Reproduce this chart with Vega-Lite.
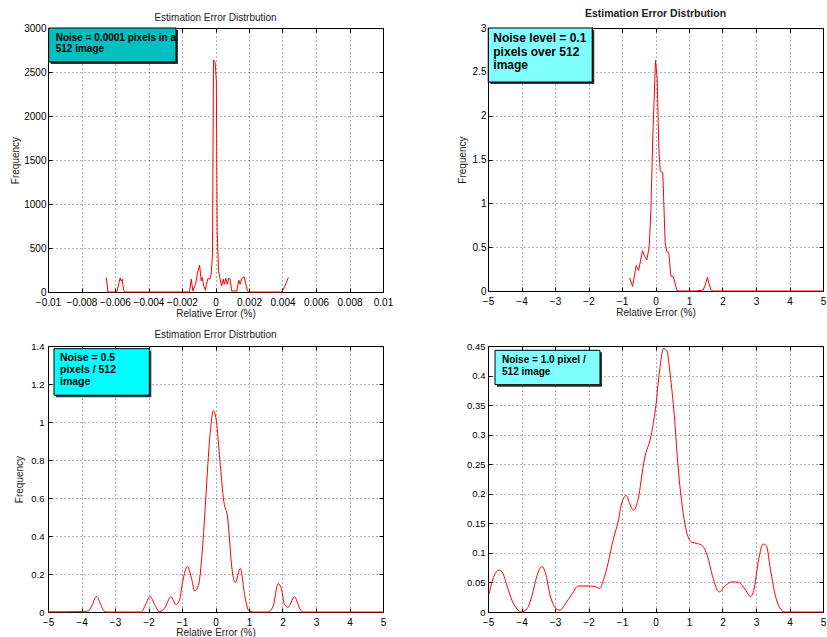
{
  "$schema": "https://vega.github.io/schema/vega-lite/v6.json",
  "background": "white",
  "padding": {"left": 10, "top": 8, "right": 2, "bottom": 1},
  "config": {
    "font": "Liberation Sans",
    "view": {"stroke": "#000", "strokeWidth": 1},
    "axis": {
      "labelFont": "Liberation Sans", "titleFont": "Liberation Sans",
      "labelColor": "#000", "titleColor": "#222",
      "domainColor": "#000", "tickColor": "#000",
      "gridColor": "#000", "gridDash": [1, 3], "gridOpacity": 0.6, "gridWidth": 1,
      "labelFlush": false, "labelOverlap": false, "labelBound": false,
      "titleFontWeight": "normal", "tickSize": -4, "labelPadding": 7, "titlePadding": 3,
      "labelFontSize": 10, "titleFontSize": 10
    },
    "axisBottom": {"labelPadding": 9, "titlePadding": 1},
    "title": {"font": "Liberation Sans", "fontSize": 10, "fontWeight": "normal", "color": "#222"}
  },
  "datasets": {
    "p1": [
      {"x": -0.00652, "y": 165}, {"x": -0.00642, "y": 0}, {"x": -0.006, "y": 0}, {"x": -0.00588, "y": 5},
      {"x": -0.00577, "y": 100}, {"x": -0.00569, "y": 160}, {"x": -0.00563, "y": 125}, {"x": -0.00557, "y": 145},
      {"x": -0.00548, "y": 20}, {"x": -0.0054, "y": 0}, {"x": -0.00185, "y": 0}, {"x": -0.00155, "y": 0},
      {"x": -0.00145, "y": 146}, {"x": -0.00135, "y": 11}, {"x": -0.00119, "y": 88}, {"x": -0.00109, "y": 203},
      {"x": -0.00095, "y": 306}, {"x": -0.00085, "y": 126}, {"x": -0.00079, "y": 165}, {"x": -0.0007, "y": 69},
      {"x": -0.0006, "y": 19}, {"x": -0.00054, "y": 88}, {"x": -0.00044, "y": 157}, {"x": -0.00034, "y": 146},
      {"x": -0.00026, "y": 203}, {"x": -0.00018, "y": 433}, {"x": -0.00012, "y": 2636}, {"x": -0.00002, "y": 2610},
      {"x": 0.00005, "y": 2400}, {"x": 0.0001, "y": 700}, {"x": 0.00018, "y": 241}, {"x": 0.00026, "y": 165},
      {"x": 0.00036, "y": 69}, {"x": 0.00046, "y": 146}, {"x": 0.00052, "y": 88}, {"x": 0.00062, "y": 157},
      {"x": 0.0007, "y": 88}, {"x": 0.00079, "y": 157}, {"x": 0.00087, "y": 146}, {"x": 0.00097, "y": 11},
      {"x": 0.00127, "y": 11}, {"x": 0.00139, "y": 134}, {"x": 0.00147, "y": 88}, {"x": 0.00157, "y": 157},
      {"x": 0.00171, "y": 172}, {"x": 0.00181, "y": 88}, {"x": 0.00191, "y": 11}, {"x": 0.00207, "y": 0},
      {"x": 0.00389, "y": 0}, {"x": 0.00399, "y": 11}, {"x": 0.00415, "y": 69}, {"x": 0.00435, "y": 165}
    ],
    "p2": [
      {"x": -0.775, "y": 0.15}, {"x": -0.685, "y": 0.053}, {"x": -0.576, "y": 0.29}, {"x": -0.506, "y": 0.234},
      {"x": -0.387, "y": 0.46}, {"x": -0.328, "y": 0.4}, {"x": -0.258, "y": 0.355}, {"x": -0.189, "y": 0.5},
      {"x": -0.139, "y": 0.91}, {"x": -0.079, "y": 1.78}, {"x": 0, "y": 2.63}, {"x": 0.05, "y": 2.42},
      {"x": 0.099, "y": 1.63}, {"x": 0.139, "y": 1.37}, {"x": 0.218, "y": 1.35}, {"x": 0.288, "y": 0.55},
      {"x": 0.338, "y": 0.45}, {"x": 0.397, "y": 0.44}, {"x": 0.457, "y": 0.17}, {"x": 0.536, "y": 0.16},
      {"x": 0.636, "y": 0.01}, {"x": 0.7, "y": 0}, {"x": 1.2, "y": 0}, {"x": 1.42, "y": 0.01},
      {"x": 1.48, "y": 0.064}, {"x": 1.55, "y": 0.155}, {"x": 1.6, "y": 0.083}, {"x": 1.66, "y": 0.01},
      {"x": 1.72, "y": 0}, {"x": 5, "y": 0}
    ],
    "p3": [
      {"x": -5, "y": 0.001}, {"x": -4.5, "y": 0.001}, {"x": -4, "y": 0.002}, {"x": -3.8, "y": 0.005},
      {"x": -3.7, "y": 0.03}, {"x": -3.55, "y": 0.082}, {"x": -3.45, "y": 0.05}, {"x": -3.35, "y": 0.01},
      {"x": -3.25, "y": 0}, {"x": -2.21, "y": 0}, {"x": -2.11, "y": 0.03}, {"x": -1.95, "y": 0.082},
      {"x": -1.82, "y": 0.04}, {"x": -1.67, "y": 0.002}, {"x": -1.52, "y": 0.02}, {"x": -1.33, "y": 0.08},
      {"x": -1.18, "y": 0.04}, {"x": -1.08, "y": 0.06}, {"x": -0.98, "y": 0.16}, {"x": -0.84, "y": 0.24},
      {"x": -0.72, "y": 0.18}, {"x": -0.62, "y": 0.11}, {"x": -0.51, "y": 0.14}, {"x": -0.39, "y": 0.33},
      {"x": -0.29, "y": 0.6}, {"x": -0.17, "y": 0.92}, {"x": -0.06, "y": 1.06}, {"x": 0.03, "y": 1.0},
      {"x": 0.13, "y": 0.8}, {"x": 0.25, "y": 0.58}, {"x": 0.36, "y": 0.5}, {"x": 0.49, "y": 0.23},
      {"x": 0.59, "y": 0.155}, {"x": 0.74, "y": 0.23}, {"x": 0.88, "y": 0.08}, {"x": 1.0, "y": 0.005},
      {"x": 1.13, "y": 0}, {"x": 1.57, "y": 0}, {"x": 1.72, "y": 0.03}, {"x": 1.87, "y": 0.15},
      {"x": 1.97, "y": 0.12}, {"x": 2.06, "y": 0.04}, {"x": 2.16, "y": 0.025}, {"x": 2.36, "y": 0.08},
      {"x": 2.51, "y": 0.02}, {"x": 2.61, "y": 0}, {"x": 3, "y": 0}, {"x": 5, "y": 0}
    ],
    "p4": [
      {"x": -4.97, "y": 0.03}, {"x": -4.82, "y": 0.061}, {"x": -4.67, "y": 0.071}, {"x": -4.57, "y": 0.067},
      {"x": -4.43, "y": 0.044}, {"x": -4.28, "y": 0.019}, {"x": -4.13, "y": 0.005}, {"x": -4.0, "y": 0.0},
      {"x": -3.83, "y": 0.006}, {"x": -3.69, "y": 0.027}, {"x": -3.54, "y": 0.061}, {"x": -3.39, "y": 0.077},
      {"x": -3.29, "y": 0.067}, {"x": -3.14, "y": 0.027}, {"x": -2.99, "y": 0.007}, {"x": -2.85, "y": 0.003},
      {"x": -2.7, "y": 0.013}, {"x": -2.5, "y": 0.03}, {"x": -2.3, "y": 0.044}, {"x": -2.01, "y": 0.044},
      {"x": -1.81, "y": 0.043}, {"x": -1.66, "y": 0.04}, {"x": -1.56, "y": 0.053}, {"x": -1.41, "y": 0.084},
      {"x": -1.26, "y": 0.123}, {"x": -1.12, "y": 0.152}, {"x": -1.0, "y": 0.186}, {"x": -0.87, "y": 0.197},
      {"x": -0.77, "y": 0.183}, {"x": -0.65, "y": 0.172}, {"x": -0.52, "y": 0.191}, {"x": -0.33, "y": 0.259},
      {"x": -0.13, "y": 0.299}, {"x": 0.0, "y": 0.344}, {"x": 0.12, "y": 0.407}, {"x": 0.24, "y": 0.446},
      {"x": 0.34, "y": 0.442}, {"x": 0.44, "y": 0.401}, {"x": 0.56, "y": 0.333}, {"x": 0.68, "y": 0.242},
      {"x": 0.81, "y": 0.174}, {"x": 0.93, "y": 0.135}, {"x": 1.08, "y": 0.118}, {"x": 1.25, "y": 0.116},
      {"x": 1.4, "y": 0.112}, {"x": 1.55, "y": 0.095}, {"x": 1.7, "y": 0.061}, {"x": 1.9, "y": 0.034},
      {"x": 2.09, "y": 0.045}, {"x": 2.29, "y": 0.051}, {"x": 2.49, "y": 0.05}, {"x": 2.69, "y": 0.037},
      {"x": 2.84, "y": 0.026}, {"x": 2.93, "y": 0.036}, {"x": 3.08, "y": 0.089}, {"x": 3.21, "y": 0.115},
      {"x": 3.31, "y": 0.112}, {"x": 3.43, "y": 0.072}, {"x": 3.58, "y": 0.027}, {"x": 3.71, "y": 0.007},
      {"x": 3.87, "y": 0.0}, {"x": 5, "y": 0}
    ]
  },
  "columns": 2,
  "align": "all",
  "bounds": "flush",
  "spacing": {"row": 52, "column": 105},
  "concat": [
    {
      "width": 335, "height": 264,
      "title": {"text": "Estimation Error Distrbution", "offset": 0},
      "resolve": {"axis": {"x": "independent", "y": "independent"}},
      "layer": [
        {
          "data": {"name": "p1"},
          "mark": {"type": "line", "color": "#ff0000", "strokeWidth": 1},
          "encoding": {
            "x": {"field": "x", "type": "quantitative", "scale": {"domain": [-0.01, 0.01], "nice": false, "zero": false},
                  "axis": {"orient": "bottom", "title": "Relative Error (%)", "format": "~g", "values": [-0.01, -0.008, -0.006, -0.004, -0.002, 0, 0.002, 0.004, 0.006, 0.008, 0.01], "grid": true}},
            "y": {"field": "y", "type": "quantitative", "scale": {"domain": [0, 3000], "nice": false, "zero": false},
                  "axis": {"orient": "left", "title": "Frequency", "format": "d", "values": [0, 500, 1000, 1500, 2000, 2500, 3000], "grid": true, "labelPadding": 6, "titlePadding": 3}}
          }
        },
        {
          "data": {"values": [{}]},
          "mark": {"type": "rect", "color": "#333333"},
          "encoding": {
            "x": {"datum": -0.00984, "type": "quantitative", "scale": {"domain": [-0.01, 0.01], "nice": false, "zero": false}, "axis": null},
            "x2": {"datum": -0.00224},
            "y": {"datum": 2977, "type": "quantitative", "scale": {"domain": [0, 3000], "nice": false, "zero": false}, "axis": null},
            "y2": {"datum": 2591}
          }
        },
        {
          "data": {"values": [{}]},
          "mark": {"type": "rect", "color": "#00bfbf", "stroke": "#000", "strokeWidth": 1},
          "encoding": {
            "x": {"datum": -0.00996, "type": "quantitative", "scale": {"domain": [-0.01, 0.01], "nice": false, "zero": false}, "axis": null},
            "x2": {"datum": -0.00236},
            "y": {"datum": 3000, "type": "quantitative", "scale": {"domain": [0, 3000], "nice": false, "zero": false}, "axis": null},
            "y2": {"datum": 2614}
          }
        },
        {
          "data": {"values": [{}]},
          "mark": {"type": "text", "align": "left", "baseline": "top", "font": "Liberation Sans", "fontSize": 10, "fontWeight": "bold", "lineHeight": 11, "color": "#000"},
          "encoding": {
            "x": {"datum": -0.00954, "type": "quantitative", "scale": {"domain": [-0.01, 0.01], "nice": false, "zero": false}, "axis": {"orient": "top", "labels": false, "grid": false, "domain": false, "title": null, "values": [-0.01, -0.008, -0.006, -0.004, -0.002, 0, 0.002, 0.004, 0.006, 0.008, 0.01]}},
            "y": {"datum": 2941, "type": "quantitative", "scale": {"domain": [0, 3000], "nice": false, "zero": false}, "axis": {"orient": "right", "labels": false, "grid": false, "domain": false, "title": null, "values": [0, 500, 1000, 1500, 2000, 2500, 3000]}},
            "text": {"value": ["Noise = 0.0001 pixels in a", "512 image"]}
          }
        }
      ]
    },
    {
      "width": 335, "height": 263,
      "title": {"text": "Estimation Error Distrbution", "offset": 4, "fontWeight": "bold", "fontSize": 10.5},
      "resolve": {"axis": {"x": "independent", "y": "independent"}},
      "layer": [
        {
          "data": {"name": "p2"},
          "mark": {"type": "line", "color": "#ff0000", "strokeWidth": 1},
          "encoding": {
            "x": {"field": "x", "type": "quantitative", "scale": {"domain": [-5, 5], "nice": false, "zero": false},
                  "axis": {"orient": "bottom", "title": "Relative Error (%)", "format": "~g", "values": [-5, -4, -3, -2, -1, 0, 1, 2, 3, 4, 5], "grid": true}},
            "y": {"field": "y", "type": "quantitative", "scale": {"domain": [0, 3], "nice": false, "zero": false},
                  "axis": {"orient": "left", "title": "Frequency", "format": "~g", "values": [0, 0.5, 1, 1.5, 2, 2.5, 3], "grid": true, "labelPadding": 6, "titlePadding": 5}}
          }
        },
        {
          "data": {"values": [{}]},
          "mark": {"type": "rect", "color": "#333333"},
          "encoding": {
            "x": {"datum": -4.93, "type": "quantitative", "scale": {"domain": [-5, 5], "nice": false, "zero": false}, "axis": null},
            "x2": {"datum": -1.827},
            "y": {"datum": 2.977, "type": "quantitative", "scale": {"domain": [0, 3], "nice": false, "zero": false}, "axis": null},
            "y2": {"datum": 2.361}
          }
        },
        {
          "data": {"values": [{}]},
          "mark": {"type": "rect", "color": "#80ffff", "stroke": "#000", "strokeWidth": 1.2},
          "encoding": {
            "x": {"datum": -4.99, "type": "quantitative", "scale": {"domain": [-5, 5], "nice": false, "zero": false}, "axis": null},
            "x2": {"datum": -1.887},
            "y": {"datum": 3, "type": "quantitative", "scale": {"domain": [0, 3], "nice": false, "zero": false}, "axis": null},
            "y2": {"datum": 2.384}
          }
        },
        {
          "data": {"values": [{}]},
          "mark": {"type": "text", "align": "left", "baseline": "top", "font": "Liberation Sans", "fontSize": 12, "fontWeight": "bold", "lineHeight": 13.7, "color": "#000"},
          "encoding": {
            "x": {"datum": -4.842, "type": "quantitative", "scale": {"domain": [-5, 5], "nice": false, "zero": false}, "axis": {"orient": "top", "labels": false, "grid": false, "domain": false, "title": null, "values": [-5, -4, -3, -2, -1, 0, 1, 2, 3, 4, 5]}},
            "y": {"datum": 2.942, "type": "quantitative", "scale": {"domain": [0, 3], "nice": false, "zero": false}, "axis": {"orient": "right", "labels": false, "grid": false, "domain": false, "title": null, "values": [0, 0.5, 1, 1.5, 2, 2.5, 3]}},
            "text": {"value": ["Noise level = 0.1", "pixels over 512", "image"]}
          }
        }
      ]
    },
    {
      "width": 335, "height": 266,
      "title": {"text": "Estimation Error Distrbution", "offset": 1},
      "resolve": {"axis": {"x": "independent", "y": "independent"}},
      "layer": [
        {
          "data": {"name": "p3"},
          "mark": {"type": "line", "color": "#ff0000", "strokeWidth": 1, "interpolate": "monotone"},
          "encoding": {
            "x": {"field": "x", "type": "quantitative", "scale": {"domain": [-5, 5], "nice": false, "zero": false},
                  "axis": {"orient": "bottom", "title": "Relative Error (%)", "format": "~g", "values": [-5, -4, -3, -2, -1, 0, 1, 2, 3, 4, 5], "grid": true, "titlePadding": 0}},
            "y": {"field": "y", "type": "quantitative", "scale": {"domain": [0, 1.4], "nice": false, "zero": false},
                  "axis": {"orient": "left", "title": "Frequency", "format": "~g", "values": [0, 0.2, 0.4, 0.6, 0.8, 1, 1.2, 1.4], "grid": true, "labelFontSize": 9.5, "labelPadding": 8, "titlePadding": 6}}
          }
        },
        {
          "data": {"values": [{}]},
          "mark": {"type": "rect", "color": "#333333"},
          "encoding": {
            "x": {"datum": -4.761, "type": "quantitative", "scale": {"domain": [-5, 5], "nice": false, "zero": false}, "axis": null},
            "x2": {"datum": -1.916},
            "y": {"datum": 1.3755, "type": "quantitative", "scale": {"domain": [0, 1.4], "nice": false, "zero": false}, "axis": null},
            "y2": {"datum": 1.1305}
          }
        },
        {
          "data": {"values": [{}]},
          "mark": {"type": "rect", "color": "#00ffff", "stroke": "#000", "strokeWidth": 1},
          "encoding": {
            "x": {"datum": -4.821, "type": "quantitative", "scale": {"domain": [-5, 5], "nice": false, "zero": false}, "axis": null},
            "x2": {"datum": -1.976},
            "y": {"datum": 1.386, "type": "quantitative", "scale": {"domain": [0, 1.4], "nice": false, "zero": false}, "axis": null},
            "y2": {"datum": 1.141}
          }
        },
        {
          "data": {"values": [{}]},
          "mark": {"type": "text", "align": "left", "baseline": "top", "font": "Liberation Sans", "fontSize": 10.5, "fontWeight": "bold", "lineHeight": 12, "color": "#000"},
          "encoding": {
            "x": {"datum": -4.642, "type": "quantitative", "scale": {"domain": [-5, 5], "nice": false, "zero": false}, "axis": {"orient": "top", "labels": false, "grid": false, "domain": false, "title": null, "values": [-5, -4, -3, -2, -1, 0, 1, 2, 3, 4, 5]}},
            "y": {"datum": 1.3637, "type": "quantitative", "scale": {"domain": [0, 1.4], "nice": false, "zero": false}, "axis": {"orient": "right", "labels": false, "grid": false, "domain": false, "title": null, "values": [0, 0.2, 0.4, 0.6, 0.8, 1, 1.2, 1.4]}},
            "text": {"value": ["Noise = 0.5", "pixels / 512", "image"]}
          }
        }
      ]
    },
    {
      "width": 335, "height": 266,
      "resolve": {"axis": {"x": "independent", "y": "independent"}},
      "layer": [
        {
          "data": {"name": "p4"},
          "mark": {"type": "line", "color": "#ff0000", "strokeWidth": 1, "interpolate": "monotone"},
          "encoding": {
            "x": {"field": "x", "type": "quantitative", "scale": {"domain": [-5, 5], "nice": false, "zero": false},
                  "axis": {"orient": "bottom", "title": null, "format": "~g", "values": [-5, -4, -3, -2, -1, 0, 1, 2, 3, 4, 5], "grid": true}},
            "y": {"field": "y", "type": "quantitative", "scale": {"domain": [0, 0.45], "nice": false, "zero": false},
                  "axis": {"orient": "left", "title": null, "format": "~g", "values": [0, 0.05, 0.1, 0.15, 0.2, 0.25, 0.3, 0.35, 0.4, 0.45], "grid": true, "labelFontSize": 9.5, "labelPadding": 7}}
          }
        },
        {
          "data": {"values": [{}]},
          "mark": {"type": "rect", "color": "#333333"},
          "encoding": {
            "x": {"datum": -4.731, "type": "quantitative", "scale": {"domain": [-5, 5], "nice": false, "zero": false}, "axis": null},
            "x2": {"datum": -1.597},
            "y": {"datum": 0.4393, "type": "quantitative", "scale": {"domain": [0, 0.45], "nice": false, "zero": false}, "axis": null},
            "y2": {"datum": 0.3811}
          }
        },
        {
          "data": {"values": [{}]},
          "mark": {"type": "rect", "color": "#80ffff", "stroke": "#000", "strokeWidth": 1},
          "encoding": {
            "x": {"datum": -4.791, "type": "quantitative", "scale": {"domain": [-5, 5], "nice": false, "zero": false}, "axis": null},
            "x2": {"datum": -1.657},
            "y": {"datum": 0.4427, "type": "quantitative", "scale": {"domain": [0, 0.45], "nice": false, "zero": false}, "axis": null},
            "y2": {"datum": 0.3845}
          }
        },
        {
          "data": {"values": [{}]},
          "mark": {"type": "text", "align": "left", "baseline": "top", "font": "Liberation Sans", "fontSize": 10, "fontWeight": "bold", "lineHeight": 11.7, "color": "#000"},
          "encoding": {
            "x": {"datum": -4.582, "type": "quantitative", "scale": {"domain": [-5, 5], "nice": false, "zero": false}, "axis": {"orient": "top", "labels": false, "grid": false, "domain": false, "title": null, "values": [-5, -4, -3, -2, -1, 0, 1, 2, 3, 4, 5]}},
            "y": {"datum": 0.4348, "type": "quantitative", "scale": {"domain": [0, 0.45], "nice": false, "zero": false}, "axis": {"orient": "right", "labels": false, "grid": false, "domain": false, "title": null, "values": [0, 0.05, 0.1, 0.15, 0.2, 0.25, 0.3, 0.35, 0.4, 0.45]}},
            "text": {"value": ["Noise = 1.0 pixel /", "512 image"]}
          }
        }
      ]
    }
  ]
}
